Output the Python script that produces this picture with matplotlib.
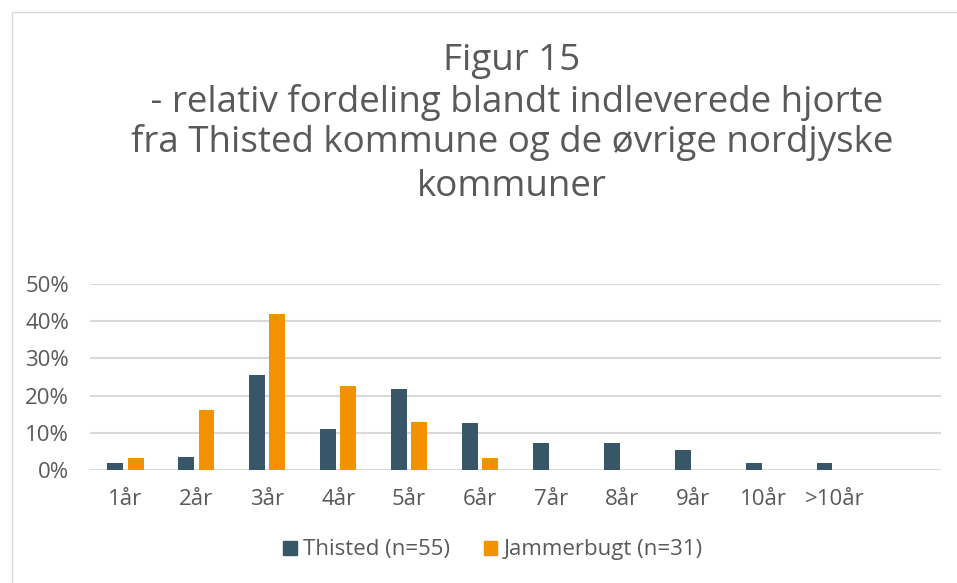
import matplotlib

matplotlib.use("Agg")
import matplotlib.pyplot as plt
import numpy as np
from matplotlib.patches import Rectangle

categories = ["1år", "2år", "3år", "4år", "5år", "6år", "7år", "8år", "9år", "10år", ">10år", ""]
thisted = [1.8, 3.6, 25.5, 10.9, 21.8, 12.7, 7.3, 7.3, 5.5, 1.8, 1.8, 0]
jammerbugt = [3.2, 16.1, 41.9, 22.6, 12.9, 3.2, 0, 0, 0, 0, 0, 0]
yticks = [0, 10, 20, 30, 40, 50]
title_lines = [
    "Figur 15",
    " - relativ fordeling blandt indleverede hjorte",
    "fra Thisted kommune og de øvrige nordjyske",
    "kommuner",
]

navy = "#375667"
orange = "#F39200"
grey = "#595959"

plt.rcParams["font.family"] = ["Open Sans", "DejaVu Sans"]

W, H = 957, 583
fig = plt.figure(figsize=(W / 100, H / 100), dpi=100)
ax = fig.add_axes([90 / W, (H - 470) / H, 851 / W, 186 / H])

x = np.arange(len(categories))
w = 0.225
ax.bar(x - w / 2 - 0.03, thisted, width=w, color=navy, zorder=3)
ax.bar(x + w / 2 + 0.03, jammerbugt, width=w, color=orange, zorder=3)

ax.set_xlim(-0.5, len(categories) - 0.5)
ax.set_ylim(0, 50)
ax.set_yticks(yticks)
ax.set_yticklabels([f"{t}%" for t in yticks], fontsize=16, color=grey)
ax.set_xticks(x)
ax.set_xticklabels(categories, fontsize=16, color=grey)
ax.tick_params(length=0)
ax.tick_params(axis="x", pad=14)
ax.tick_params(axis="y", pad=15)
ax.grid(axis="y", color="#d9d9d9", linewidth=1.5, zorder=0)
for s in ax.spines.values():
    s.set_visible(False)

# title, one line at a time (baselines in pixels from the top)
for line, yb in zip(title_lines, [70, 112, 152, 196]):
    fig.text(512 / W, 1 - yb / H, line, ha="center", va="baseline",
             fontsize=26.5, color=grey)

h1 = Rectangle((0, 0), 1, 1, color=navy)
h2 = Rectangle((0, 0), 1, 1, color=orange)
fig.legend([h1, h2], ["Thisted (n=55)", "Jammerbugt (n=31)"], loc="center",
           bbox_to_anchor=(493 / W, 1 - 550 / H), ncol=2, frameon=False, fontsize=16,
           labelcolor=grey, handlelength=0.6, handleheight=0.6, handletextpad=0.3,
           columnspacing=1.5)

fig.patches.append(Rectangle((12 / W, -0.1), 2, 1.1 - 12 / H, transform=fig.transFigure,
                             fill=False, edgecolor="#d9d9d9", linewidth=1))

fig.savefig("out.png", dpi=100)
